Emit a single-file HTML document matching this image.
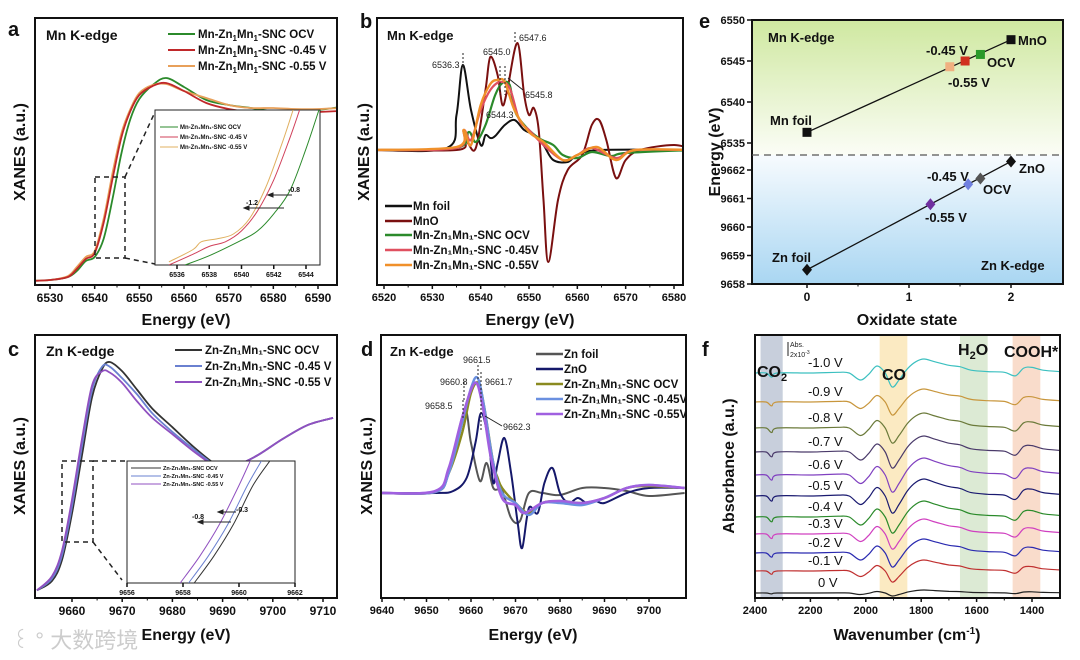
<!DOCTYPE html>
<html><head><meta charset="utf-8"><style>
html,body{margin:0;padding:0;background:#fff;}
svg{display:block;font-family:"Liberation Sans",Arial,sans-serif;}
.t{font-weight:bold;fill:#111;}
</style></head><body>
<svg id="fig" width="1080" height="660" viewBox="0 0 1080 660">
<defs>
<linearGradient id="gUp" x1="0" y1="0" x2="0" y2="1"><stop offset="0" stop-color="#cfe8a0"/><stop offset="1" stop-color="#fbfdf6"/></linearGradient>
<linearGradient id="gLo" x1="0" y1="0" x2="0" y2="1"><stop offset="0" stop-color="#f7fbfe"/><stop offset="1" stop-color="#a9d6f2"/></linearGradient>
<clipPath id="cA"><rect x="35" y="18" width="302" height="267"/></clipPath>
<clipPath id="cAi"><rect x="155" y="110" width="165" height="155"/></clipPath>
<clipPath id="cB"><rect x="377" y="18" width="306" height="267"/></clipPath>
<clipPath id="cC"><rect x="35" y="335" width="302" height="263"/></clipPath>
<clipPath id="cCi"><rect x="127" y="461" width="168" height="122"/></clipPath>
<clipPath id="cD"><rect x="381" y="335" width="305" height="263"/></clipPath>
<clipPath id="cF"><rect x="755" y="335" width="305" height="263"/></clipPath>
</defs>

<text class="t" x="8" y="36" font-size="20">a</text>
<text class="t" x="360" y="28" font-size="20">b</text>
<text class="t" x="699" y="28" font-size="20">e</text>
<text class="t" x="8" y="356" font-size="20">c</text>
<text class="t" x="361" y="356" font-size="20">d</text>
<text class="t" x="702" y="356" font-size="20">f</text>

<rect x="752" y="20" width="311" height="135" fill="url(#gUp)"/>
<rect x="752" y="155" width="311" height="129" fill="url(#gLo)"/>

<g id="bandsF"></g>
<g id="plots"></g>

<rect x="35" y="18" width="302" height="267" fill="none" stroke="#111" stroke-width="2"/>
<rect x="377" y="18" width="306" height="267" fill="none" stroke="#111" stroke-width="2"/>
<rect x="752" y="20" width="311" height="264" fill="none" stroke="#111" stroke-width="2"/>
<rect x="35" y="335" width="302" height="263" fill="none" stroke="#111" stroke-width="2"/>
<rect x="381" y="335" width="305" height="263" fill="none" stroke="#111" stroke-width="2"/>
<rect x="755" y="335" width="305" height="263" fill="none" stroke="#111" stroke-width="2"/>

<text class="t" font-size="16" text-anchor="middle" transform="translate(25,152) rotate(-90)">XANES (a.u.)</text>
<text class="t" font-size="16" x="186" y="325" text-anchor="middle">Energy (eV)</text>
<text class="t" font-size="16" text-anchor="middle" transform="translate(369,152) rotate(-90)">XANES (a.u.)</text>
<text class="t" font-size="16" x="530" y="325" text-anchor="middle">Energy (eV)</text>
<text class="t" font-size="16" text-anchor="middle" transform="translate(720,152) rotate(-90)">Energy (eV)</text>
<text class="t" font-size="16" x="907" y="325" text-anchor="middle">Oxidate state</text>
<text class="t" font-size="16" text-anchor="middle" transform="translate(25,466) rotate(-90)">XANES (a.u.)</text>
<text class="t" font-size="16" x="186" y="640" text-anchor="middle">Energy (eV)</text>
<text class="t" font-size="16" text-anchor="middle" transform="translate(372,466) rotate(-90)">XANES (a.u.)</text>
<text class="t" font-size="16" x="533" y="640" text-anchor="middle">Energy (eV)</text>
<text class="t" font-size="16" text-anchor="middle" transform="translate(734,466) rotate(-90)">Absorbance (a.u.)</text>
<text class="t" font-size="16" x="907" y="640" text-anchor="middle">Wavenumber (cm<tspan font-size="10" dy="-6">-1</tspan><tspan dy="6">)</tspan></text>

<text class="t" x="46" y="40" font-size="14">Mn K-edge</text>
<g font-size="11.5" class="t">
<line x1="168" y1="34" x2="195" y2="34" stroke="#2b8a2b" stroke-width="2"/>
<line x1="168" y1="50" x2="195" y2="50" stroke="#c0282a" stroke-width="2"/>
<line x1="168" y1="66" x2="195" y2="66" stroke="#e8a05a" stroke-width="2"/>
<text x="198" y="38">Mn-Zn<tspan font-size="8" dy="3">1</tspan><tspan dy="-3">Mn</tspan><tspan font-size="8" dy="3">1</tspan><tspan dy="-3">-SNC OCV</tspan></text>
<text x="198" y="54">Mn-Zn<tspan font-size="8" dy="3">1</tspan><tspan dy="-3">Mn</tspan><tspan font-size="8" dy="3">1</tspan><tspan dy="-3">-SNC -0.45 V</tspan></text>
<text x="198" y="70">Mn-Zn<tspan font-size="8" dy="3">1</tspan><tspan dy="-3">Mn</tspan><tspan font-size="8" dy="3">1</tspan><tspan dy="-3">-SNC -0.55 V</tspan></text>
</g>
<rect x="155" y="110" width="165" height="155" fill="#fff" stroke="#222" stroke-width="1"/>
<g font-size="6" class="t">
<line x1="160" y1="127" x2="178" y2="127" stroke="#2b8a2b"/><text x="180" y="129">Mn-Zn₁Mn₁-SNC OCV</text>
<line x1="160" y1="137" x2="178" y2="137" stroke="#d0405a"/><text x="180" y="139">Mn-Zn₁Mn₁-SNC -0.45 V</text>
<line x1="160" y1="147" x2="178" y2="147" stroke="#e0b060"/><text x="180" y="149">Mn-Zn₁Mn₁-SNC -0.55 V</text>
</g>
<g stroke="#222" stroke-width="1.5" stroke-dasharray="5,4" fill="none">
<rect x="95" y="177" width="30" height="81"/>
<line x1="125" y1="177" x2="155" y2="112"/>
<line x1="125" y1="258" x2="155" y2="264"/>
</g>

<text class="t" x="387" y="40" font-size="13">Mn K-edge</text>
<g font-size="9" fill="#222">
<text x="432" y="68">6536.3</text><text x="483" y="55">6545.0</text><text x="519" y="41">6547.6</text>
<text x="525" y="98">6545.8</text><text x="486" y="118">6544.3</text>
</g>
<g stroke="#222" stroke-width="1" stroke-dasharray="2,2">
<line x1="463" y1="53" x2="463" y2="68"/><line x1="515" y1="32" x2="515" y2="44"/>
<line x1="500" y1="66" x2="500" y2="95"/><line x1="505" y1="66" x2="505" y2="95"/>
</g>
<line x1="523" y1="90" x2="508" y2="78" stroke="#222"/>
<g font-size="11.5" class="t">
<line x1="385" y1="206" x2="412" y2="206" stroke="#111" stroke-width="2.5"/><text x="413" y="210">Mn foil</text>
<line x1="385" y1="221" x2="412" y2="221" stroke="#7a1010" stroke-width="2.5"/><text x="413" y="225">MnO</text>
<line x1="385" y1="235" x2="412" y2="235" stroke="#2b8a2b" stroke-width="2.5"/><text x="413" y="239">Mn-Zn₁Mn₁-SNC OCV</text>
<line x1="385" y1="250" x2="412" y2="250" stroke="#e05060" stroke-width="2.5"/><text x="413" y="254">Mn-Zn₁Mn₁-SNC -0.45V</text>
<line x1="385" y1="265" x2="412" y2="265" stroke="#f0902a" stroke-width="2.5"/><text x="413" y="269">Mn-Zn₁Mn₁-SNC -0.55V</text>
</g>

<line x1="752" y1="155" x2="1063" y2="155" stroke="#555" stroke-width="1.3" stroke-dasharray="7,5"/>
<g class="t" font-size="13">
<text x="768" y="42">Mn K-edge</text><text x="1018" y="45">MnO</text><text x="926" y="55">-0.45 V</text>
<text x="987" y="67">OCV</text><text x="948" y="87">-0.55 V</text><text x="770" y="125">Mn foil</text>
<text x="1019" y="173">ZnO</text><text x="927" y="181">-0.45 V</text><text x="983" y="194">OCV</text>
<text x="925" y="222">-0.55 V</text><text x="772" y="262">Zn foil</text><text x="981" y="270">Zn K-edge</text>
</g>

<text class="t" x="46" y="356" font-size="14">Zn K-edge</text>
<g font-size="11.5" class="t">
<line x1="175" y1="350" x2="202" y2="350" stroke="#333" stroke-width="2"/><text x="205" y="354">Zn-Zn₁Mn₁-SNC OCV</text>
<line x1="175" y1="366" x2="202" y2="366" stroke="#6a80d0" stroke-width="2"/><text x="205" y="370">Zn-Zn₁Mn₁-SNC -0.45 V</text>
<line x1="175" y1="382" x2="202" y2="382" stroke="#9050c0" stroke-width="2"/><text x="205" y="386">Zn-Zn₁Mn₁-SNC -0.55 V</text>
</g>
<rect x="127" y="461" width="168" height="122" fill="#fff" stroke="#222"/>
<g font-size="5.5" class="t">
<line x1="131" y1="468" x2="161" y2="468" stroke="#333"/><text x="163" y="470">Zn-Zn₁Mn₁-SNC OCV</text>
<line x1="131" y1="476" x2="161" y2="476" stroke="#6a80d0"/><text x="163" y="478">Zn-Zn₁Mn₁-SNC -0.45 V</text>
<line x1="131" y1="484" x2="161" y2="484" stroke="#9050c0"/><text x="163" y="486">Zn-Zn₁Mn₁-SNC -0.55 V</text>
</g>
<g stroke="#222" stroke-width="1.5" stroke-dasharray="5,4" fill="none">
<rect x="62" y="461" width="31" height="81"/>
<line x1="93" y1="461" x2="127" y2="461"/>
<line x1="93" y1="542" x2="122" y2="580"/>
</g>

<text class="t" x="390" y="356" font-size="13">Zn K-edge</text>
<g font-size="9" fill="#222">
<text x="463" y="363">9661.5</text><text x="440" y="385">9660.8</text><text x="485" y="385">9661.7</text>
<text x="425" y="409">9658.5</text><text x="503" y="430">9662.3</text>
</g>
<g stroke="#222" stroke-width="1" stroke-dasharray="2,2">
<line x1="478" y1="365" x2="478" y2="380"/><line x1="464" y1="382" x2="464" y2="400"/>
<line x1="481" y1="372" x2="481" y2="430"/><line x1="463" y1="400" x2="463" y2="420"/>
</g>
<line x1="502" y1="426" x2="485" y2="416" stroke="#222"/>
<g font-size="11.5" class="t">
<line x1="536" y1="354" x2="563" y2="354" stroke="#555" stroke-width="2.5"/><text x="564" y="358">Zn foil</text>
<line x1="536" y1="369" x2="563" y2="369" stroke="#15186a" stroke-width="2.5"/><text x="564" y="373">ZnO</text>
<line x1="536" y1="384" x2="563" y2="384" stroke="#8a8a20" stroke-width="2.5"/><text x="564" y="388">Zn-Zn₁Mn₁-SNC OCV</text>
<line x1="536" y1="399" x2="563" y2="399" stroke="#6a90e0" stroke-width="2.5"/><text x="564" y="403">Zn-Zn₁Mn₁-SNC -0.45V</text>
<line x1="536" y1="414" x2="563" y2="414" stroke="#a060e0" stroke-width="2.5"/><text x="564" y="418">Zn-Zn₁Mn₁-SNC -0.55V</text>
</g>

<g class="t">
<text x="757" y="377" font-size="16">CO<tspan font-size="11" dy="4">2</tspan></text>
<text x="882" y="380" font-size="16">CO</text>
<text x="958" y="355" font-size="16">H<tspan font-size="11" dy="4">2</tspan><tspan dy="-4">O</tspan></text>
<text x="1004" y="357" font-size="16">COOH*</text>
</g>
<line x1="788" y1="342" x2="788" y2="356" stroke="#222"/>
<text x="790" y="347" font-size="7" fill="#222">Abs.</text>
<text x="790" y="357" font-size="7" fill="#222">2x10<tspan font-size="5" dy="-3">-3</tspan></text>

<text x="12" y="648" font-size="22" fill="#ccc">꒰ ° 大数跨境</text>

<g id="insetCurves"></g>
<g>
<g stroke="#222" stroke-width="1">
<line x1="292" y1="195" x2="270" y2="195"/><polygon points="268,195 273,193 273,197" fill="#222"/>
<line x1="284" y1="208" x2="246" y2="208"/><polygon points="244,208 249,206 249,210" fill="#222"/>
<line x1="236" y1="512" x2="220" y2="512"/><polygon points="218,512 223,510 223,514" fill="#222"/>
<line x1="231" y1="522" x2="200" y2="522"/><polygon points="198,522 203,520 203,524" fill="#222"/>
</g>
<text x="288" y="192" font-size="7" class="t">-0.8</text>
<text x="246" y="205" font-size="7" class="t">-1.2</text>
<text class="t" font-size="7" x="236" y="512">-0.3</text>
<text class="t" font-size="7" x="192" y="519">-0.8</text>
</g>

<script>
var aE = [6525,6530,6534,6536,6538,6540,6542,6544,6546,6548,6550,6553,6556,6560,6565,6570,6575,6580,6585,6590,6595];
var aOCV = [0.01,0.015,0.03,0.06,0.11,0.13,0.22,0.42,0.65,0.82,0.92,0.99,1.025,0.98,0.915,0.89,0.875,0.86,0.86,0.865,0.88];
var aR045 = [0.01,0.015,0.03,0.07,0.12,0.15,0.3,0.52,0.73,0.86,0.94,0.985,1.0,0.96,0.9,0.87,0.855,0.85,0.85,0.855,0.86];
var aR055 = [0.01,0.015,0.035,0.08,0.13,0.16,0.32,0.55,0.75,0.87,0.95,0.99,0.995,0.96,0.925,0.89,0.875,0.875,0.87,0.87,0.875];
var aTicks = [6530,6540,6550,6560,6570,6580,6590];
var aiE1 = [6536.5,6538,6540,6541,6542,6543,6544,6544.8];
var aiOCV = [0,0.06,0.16,0.22,0.33,0.48,0.75,1.0];
var aiE2 = [6535.5,6537,6538,6539,6540,6541,6542,6543,6543.6];
var aiR045 = [0,0.07,0.12,0.15,0.22,0.35,0.55,0.82,1.0];
var aiE3 = [6535.5,6537,6537.5,6538.5,6539.5,6540.5,6541.5,6542.5,6543.2];
var aiR055 = [0.02,0.1,0.15,0.17,0.2,0.3,0.5,0.78,1.0];
var aiTicks = [6536,6538,6540,6542,6544];
var bFoilE = [6518,6533,6535,6536.3,6538,6540,6541,6542,6543,6545,6547,6549,6551,6553,6555,6558,6560,6565,6584];
var bFoil = [0,0.02,0.35,0.85,0.4,0.05,0.15,0.12,0.14,0.25,0.3,0.2,0.15,0.05,-0.1,-0.12,-0.05,0,0];
var bMnOE = [6518,6535,6537,6539,6541,6542,6543.5,6544.5,6545.5,6547.6,6549,6550,6551,6552,6553,6554,6556,6558,6561,6563,6564.5,6566,6568,6570,6573,6580,6584];
var bMnO = [0,0,0.08,0.02,0.6,0.93,0.75,0.45,0.6,1.07,0.55,0.35,0.42,0.2,-0.5,-1.12,-0.5,-0.2,-0.05,0.25,0.3,0.1,-0.28,-0.1,0,0.05,0];
var bOCVE = [6518,6535,6537.5,6539,6541,6543,6544.5,6546,6547,6549,6552,6555,6557,6560,6563,6567,6570,6584];
var bOCV = [0,0.02,0.18,0.08,0.25,0.55,0.67,0.65,0.4,0.25,0.12,0.05,-0.05,-0.08,-0.02,-0.06,-0.03,0];
var b045E = [6518,6535,6536.5,6538,6540,6542,6544,6546,6548,6550,6553,6557,6560,6563,6568,6572,6584];
var b045 = [0,0.02,0.2,0.1,0.4,0.6,0.68,0.62,0.3,0.2,0.05,-0.1,-0.05,0.02,-0.08,0,0];
var b055E = [6518,6535,6536.5,6538,6540,6542,6543.5,6545,6547,6550,6553,6557,6560,6564,6568,6572,6584];
var b055 = [0,0.03,0.2,0.05,0.45,0.66,0.7,0.68,0.4,0.18,0.08,-0.1,-0.05,0.03,-0.1,0,0];
var bTicks = [6520,6530,6540,6550,6560,6570,6580];
var eMnX = [0,1.4,1.55,1.7,2];
var eMnY = [6536.3,6544.3,6545.0,6545.8,6547.6];
var eMnCol = ['#111','#f0b080','#d03020','#2a9a2a','#111'];
var eZnX = [0,1.21,1.58,1.7,2];
var eZnY = [9658.5,9660.8,9661.5,9661.7,9662.3];
var eZnCol = ['#111','#7030a0','#7080e0','#555','#111'];
var eMnTicks = [6535,6540,6545,6550];
var eZnTicks = [9658,9659,9660,9661,9662];
var eXTicks = [0,1,2];
var cE = [9653,9656,9658,9660,9662,9664,9666,9667.5,9670,9673,9676,9680,9684,9688,9690,9693,9697,9702,9707,9712];
var cOCV = [0.02,0.06,0.15,0.35,0.6,0.85,0.97,1.0,0.96,0.88,0.8,0.72,0.64,0.57,0.555,0.56,0.6,0.67,0.73,0.76];
var c045 = [0.02,0.07,0.17,0.38,0.64,0.88,0.98,0.98,0.93,0.86,0.78,0.7,0.63,0.565,0.555,0.56,0.6,0.67,0.73,0.76];
var c055 = [0.02,0.08,0.19,0.41,0.67,0.9,0.96,0.955,0.91,0.83,0.76,0.69,0.62,0.56,0.55,0.56,0.6,0.67,0.73,0.76];
var cTicks = [9660,9670,9680,9690,9700,9710];
var ciE_ocv = [9658.4,9659.1,9659.8,9660.5,9661.1];
var ciE_045 = [9658.2,9658.9,9659.6,9660.3,9660.8];
var ciE_055 = [9657.9,9658.6,9659.3,9660.0,9660.4];
var ciV = [0,0.22,0.48,0.8,1.0];
var ciTicks = [9656,9658,9660,9662];
var dFoilE = [9640,9652,9655,9658.5,9660,9662,9663.5,9665,9667,9669,9671,9673,9676,9680,9685,9690,9695,9700,9708];
var dFoil = [0,0.01,0.2,0.82,0.5,0.12,0.3,0.05,0.02,-0.25,-0.28,0,0,-0.02,0.05,0.05,0.02,-0.03,0];
var dZnOE = [9640,9652,9656,9659,9661,9662.3,9664,9665,9666,9667.5,9669,9670.5,9671.5,9673,9675,9676.5,9678.3,9680,9682,9684,9686,9688,9690,9695,9700,9708];
var dZnO = [0,0,0.02,0.15,0.5,0.8,0.5,0.1,0.3,0.55,0.2,-0.3,-0.55,-0.15,-0.2,0.1,0.25,0,-0.1,-0.05,-0.1,-0.08,-0.1,0,0.05,0.05];
var dOCVE = [9640,9652,9655,9658,9660,9661.7,9663,9665,9666,9667,9670,9673,9676,9680,9685,9690,9695,9700,9708];
var dOCV = [0,0.01,0.2,0.6,1.0,1.1,0.85,0.3,0.15,0.05,-0.1,-0.2,-0.1,-0.08,-0.1,-0.05,0.05,0.07,0.05];
var d045E = [9640,9652,9655,9658,9660,9661.5,9663,9665,9667,9670,9673,9676,9680,9685,9690,9695,9700,9708];
var d045 = [0,0.01,0.2,0.7,1.05,1.15,0.85,0.3,0,-0.1,-0.22,-0.1,-0.1,-0.12,-0.05,0.05,0.08,0.05];
var d055E = [9640,9652,9655,9658,9660.8,9662.5,9664.5,9667,9670,9672,9676,9680,9685,9690,9695,9700,9708];
var d055 = [0,0.02,0.25,0.75,1.1,0.9,0.35,-0.05,-0.12,-0.2,-0.1,-0.08,-0.1,-0.05,0.05,0.08,0.05];
var dTicks = [9640,9650,9660,9670,9680,9690,9700];
var fWave = [2400,2360,2340,2320,2200,2100,2060,2020,1990,1960,1930,1905,1880,1850,1820,1790,1750,1700,1660,1620,1560,1500,1460,1430,1400,1360,1300];
var fShape = [0,0,-0.3,0,0,0.05,0,-0.5,-0.1,0.5,0,-1.0,-0.5,0.3,0.8,1.0,0.8,0.55,0.45,0.2,0.1,0.05,-0.2,0.35,0.4,0.2,0.1];
var fLabels = ['0 V','-0.1 V','-0.2 V','-0.3 V','-0.4 V','-0.5 V','-0.6 V','-0.7 V','-0.8 V','-0.9 V','-1.0 V'];
var fOffset = [5,27,45,64,81,102,123,146,170,196,225];
var fAmp = [3,11,14,15,16,17,17,16,15,13,14];
var fColors = ['#222','#c03030','#2a2ab0','#d040c0','#2a8a2a','#1a1a70','#8040c0','#4a3a6a','#6b7a3a','#c8963c','#3cc0c0'];
var fTicks = [2400,2200,2000,1800,1600,1400];
var fBandLo = [2300,1850,1560,1370];
var fBandHi = [2380,1950,1660,1470];
var fBandCol = ['#9aa8c0','#f8d890','#c0d8b0','#f4c0a0'];

var NS = 'http://www.w3.org/2000/svg';
var root = document.getElementById('plots');
var insetG = document.getElementById('insetCurves');
function mk(tag, attrs, parent) {
  var el = document.createElementNS(NS, tag);
  for (var k in attrs) el.setAttribute(k, attrs[k]);
  (parent || root).appendChild(el);
  return el;
}
function lin(d0, d1, r0, r1) { return function (v) { return r0 + (v - d0) * (r1 - r0) / (d1 - d0); }; }
function smooth(xs, ys, sx, sy) {
  var p = xs.map(function (x, i) { return [sx(x), sy(ys[i])]; });
  var d = 'M' + p[0][0].toFixed(1) + ',' + p[0][1].toFixed(1);
  for (var i = 0; i < p.length - 1; i++) {
    var p0 = p[i - 1] || p[i], p1 = p[i], p2 = p[i + 1], p3 = p[i + 2] || p2;
    var c1x = p1[0] + (p2[0] - p0[0]) / 6, c1y = p1[1] + (p2[1] - p0[1]) / 6;
    var c2x = p2[0] - (p3[0] - p1[0]) / 6, c2y = p2[1] - (p3[1] - p1[1]) / 6;
    d += 'C' + c1x.toFixed(1) + ',' + c1y.toFixed(1) + ' ' + c2x.toFixed(1) + ',' + c2y.toFixed(1) + ' ' + p2[0].toFixed(1) + ',' + p2[1].toFixed(1);
  }
  return d;
}
function curve(xs, ys, sx, sy, color, w, clip, name, parent) {
  var el = mk('path', { d: smooth(xs, ys, sx, sy), fill: 'none', stroke: color, 'stroke-width': w, 'clip-path': 'url(#' + clip + ')', 'stroke-linejoin': 'round' }, parent);
  
  
  return el;
}
function xaxis(ticks, sx, y0, fs, name, minor, parent) {
  var g = mk('g', {}, parent);
  
  
  ticks.forEach(function (t) {
    var x = sx(t);
    mk('line', { x1: x, y1: y0, x2: x, y2: y0 + 4, stroke: '#111', 'stroke-width': 1.5 }, g);
    var tx = mk('text', { x: x, y: y0 + 5 + fs, 'font-size': fs, 'text-anchor': 'middle', 'font-weight': 'bold', fill: '#111' }, g);
    tx.textContent = t;
  });
  if (minor) {
    for (var i = 0; i < ticks.length - 1; i++) {
      var xm = sx((ticks[i] + ticks[i + 1]) / 2);
      mk('line', { x1: xm, y1: y0, x2: xm, y2: y0 + 2.5, stroke: '#111', 'stroke-width': 1 }, g);
    }
  }
}

// panel a
var xA = lin(6530, 6590, 50, 318), yA = lin(0, 1, 283, 83);
curve(aE, aOCV, xA, yA, '#2b8a2b', 1.8, 'cA', 'curve-a-ocv');
curve(aE, aR055, xA, yA, '#e8a05a', 1.8, 'cA', 'curve-a-055');
curve(aE, aR045, xA, yA, '#c0282a', 1.8, 'cA', 'curve-a-045');
xaxis(aTicks, xA, 285, 12, 'x-axis-a', true);
var xAi = lin(6536, 6544, 177, 306), yAi = lin(0, 1, 265, 110);
curve(aiE1, aiOCV, xAi, yAi, '#2b8a2b', 1, 'cAi', 'inset-a-ocv', insetG);
curve(aiE2, aiR045, xAi, yAi, '#d0405a', 1, 'cAi', 'inset-a-045', insetG);
curve(aiE3, aiR055, xAi, yAi, '#e0b060', 1, 'cAi', 'inset-a-055', insetG);
xaxis(aiTicks, xAi, 265, 7, 'x-axis-inset-a', false, insetG);

// panel b
var xB = lin(6520, 6580, 384, 674), yB = lin(0, 1, 150, 50);
curve(bFoilE, bFoil, xB, yB, '#111', 2, 'cB', 'curve-b-mn-foil');
curve(bMnOE, bMnO, xB, yB, '#7a1010', 2, 'cB', 'curve-b-mno');
curve(bOCVE, bOCV, xB, yB, '#2b8a2b', 2.2, 'cB', 'curve-b-ocv');
curve(b045E, b045, xB, yB, '#e05060', 2.2, 'cB', 'curve-b-045');
curve(b055E, b055, xB, yB, '#f0902a', 2.4, 'cB', 'curve-b-055');
xaxis(bTicks, xB, 285, 11, 'x-axis-b', true);

// panel e
var xE = lin(0, 2, 807, 1011), yEu = lin(6535, 6550, 143, 20), yEl = lin(9658, 9662, 284, 170);
var lnMn = mk('line', { x1: xE(eMnX[0]), y1: yEu(eMnY[0]), x2: xE(eMnX[4]), y2: yEu(eMnY[4]), stroke: '#111', 'stroke-width': 1.3 });


var lnZn = mk('line', { x1: xE(eZnX[0]), y1: yEl(eZnY[0]), x2: xE(eZnX[4]), y2: yEl(eZnY[4]), stroke: '#111', 'stroke-width': 1.3 });


eMnX.forEach(function (x, i) {
  var r = mk('rect', { x: xE(x) - 4.5, y: yEu(eMnY[i]) - 4.5, width: 9, height: 9, fill: eMnCol[i] });
  
  
});
eZnX.forEach(function (x, i) {
  var cx = xE(x), cy = yEl(eZnY[i]);
  var r = mk('polygon', { points: cx + ',' + (cy - 6) + ' ' + (cx + 5) + ',' + cy + ' ' + cx + ',' + (cy + 6) + ' ' + (cx - 5) + ',' + cy, fill: eZnCol[i] });
  
  
});
var gey = mk('g', {});


eMnTicks.forEach(function (t) {
  mk('line', { x1: 752, y1: yEu(t), x2: 747, y2: yEu(t), stroke: '#111', 'stroke-width': 1.5 }, gey);
  var tx = mk('text', { x: 745, y: yEu(t) + 4, 'font-size': 11, 'text-anchor': 'end', 'font-weight': 'bold', fill: '#111' }, gey);
  tx.textContent = t;
});
eZnTicks.forEach(function (t) {
  mk('line', { x1: 752, y1: yEl(t), x2: 747, y2: yEl(t), stroke: '#111', 'stroke-width': 1.5 }, gey);
  var tx = mk('text', { x: 745, y: yEl(t) + 4, 'font-size': 11, 'text-anchor': 'end', 'font-weight': 'bold', fill: '#111' }, gey);
  tx.textContent = t;
});
xaxis(eXTicks, xE, 284, 12, 'x-axis-e', true);

// panel c
var xC = lin(9660, 9710, 72, 323), yC = lin(0, 1, 595, 362);
curve(cE, cOCV, xC, yC, '#333', 1.8, 'cC', 'curve-c-ocv');
curve(cE, c045, xC, yC, '#6a80d0', 1.8, 'cC', 'curve-c-045');
curve(cE, c055, xC, yC, '#9050c0', 1.8, 'cC', 'curve-c-055');
xaxis(cTicks, xC, 598, 12, 'x-axis-c', true);
var xCi = lin(9656, 9662, 127, 295), yCi = lin(0, 1, 583, 461);
curve(ciE_ocv, ciV, xCi, yCi, '#333', 1, 'cCi', 'inset-c-ocv', insetG);
curve(ciE_045, ciV, xCi, yCi, '#6a80d0', 1, 'cCi', 'inset-c-045', insetG);
curve(ciE_055, ciV, xCi, yCi, '#9050c0', 1, 'cCi', 'inset-c-055', insetG);
xaxis(ciTicks, xCi, 583, 7, 'x-axis-inset-c', false, insetG);

// panel d
var xD = lin(9640, 9700, 382, 649), yD = lin(0, 1, 493, 393);
curve(dFoilE, dFoil, xD, yD, '#555', 2, 'cD', 'curve-d-zn-foil');
curve(dZnOE, dZnO, xD, yD, '#15186a', 2, 'cD', 'curve-d-zno');
curve(dOCVE, dOCV, xD, yD, '#8a8a20', 2.4, 'cD', 'curve-d-ocv');
curve(d045E, d045, xD, yD, '#6a90e0', 2.4, 'cD', 'curve-d-045');
curve(d055E, d055, xD, yD, '#a060e0', 2.6, 'cD', 'curve-d-055');
xaxis(dTicks, xD, 598, 11, 'x-axis-d', true);

// panel f
var xF = lin(2400, 1400, 755, 1032);
var bandG = document.getElementById('bandsF');
fBandLo.forEach(function (lo, i) {
  var r = mk('rect', { x: xF(fBandHi[i]), y: 336, width: xF(lo) - xF(fBandHi[i]), height: 261, fill: fBandCol[i], opacity: 0.55 }, bandG);
  
  
});
fLabels.forEach(function (lab, i) {
  var base = 598 - fOffset[i], amp = fAmp[i];
  var yF = function (v) { return base - v * amp; };
  curve(fWave, fShape, xF, yF, fColors[i], 1.2, 'cF', 'trace-f');
  var tx = mk('text', { x: i === 0 ? 818 : 808, y: base - 6, 'font-size': 13, fill: '#111' });
  
  
  tx.textContent = lab;
});
xaxis(fTicks, xF, 598, 11, 'x-axis-f', true);
</script>
</svg>
</body></html>
